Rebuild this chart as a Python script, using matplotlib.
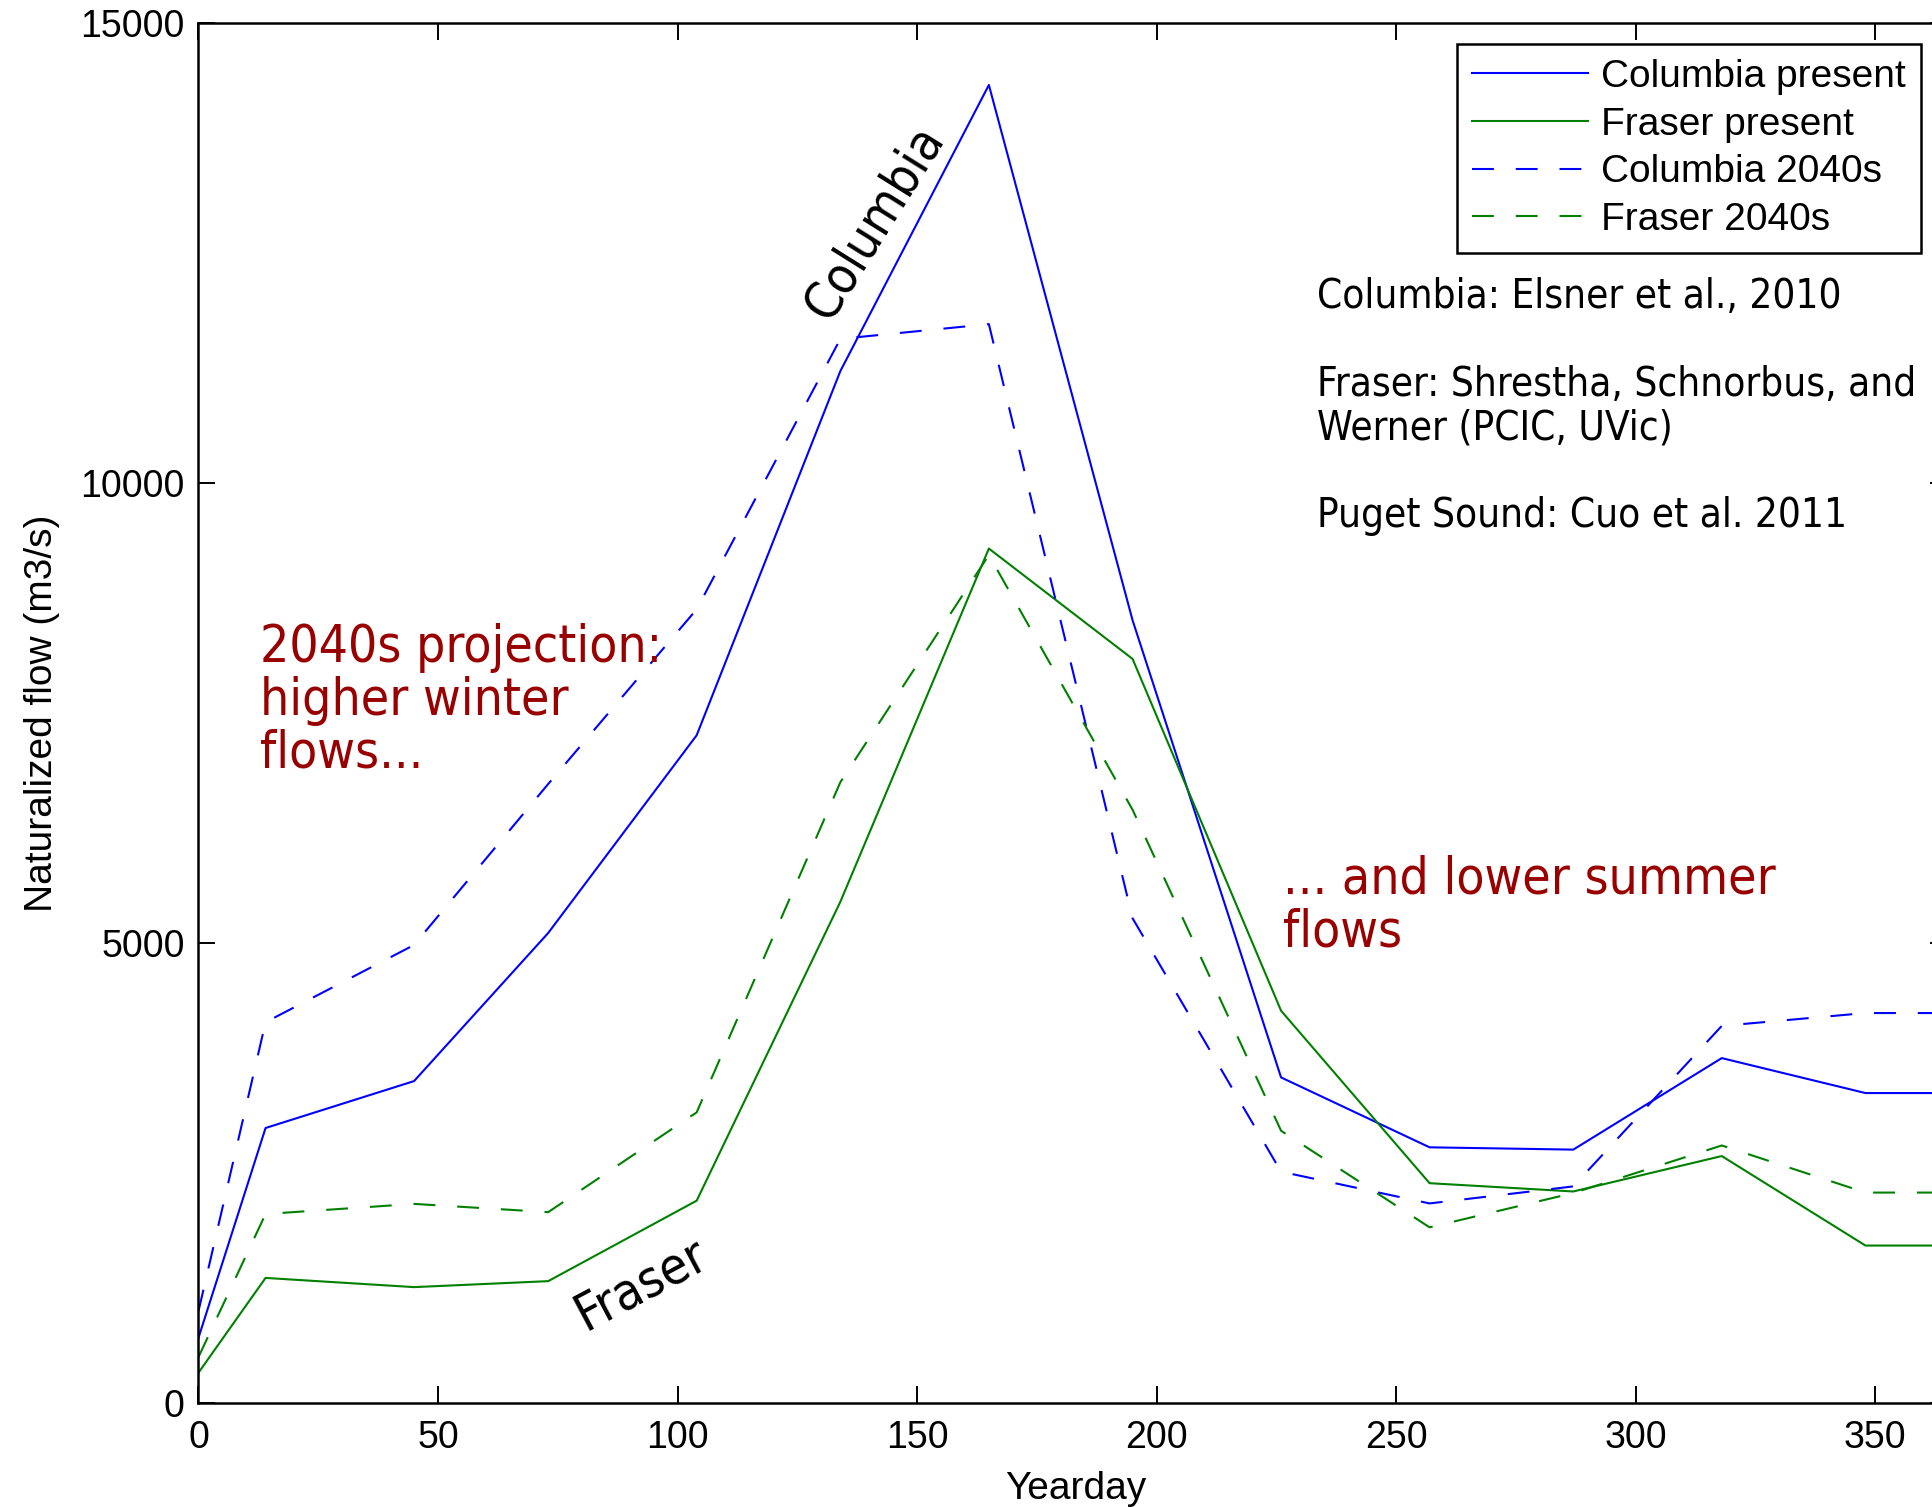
import matplotlib
matplotlib.use("Agg")
import matplotlib.pyplot as plt
from matplotlib import font_manager

plt.rcParams['font.family'] = ['Liberation Sans', 'DejaVu Sans']

# ---- data ----
yearday = [0, 14, 45, 73, 104, 134, 165, 195, 226, 257, 287, 318, 348, 365]
columbia_present = [710, 2990, 3500, 5110, 7260, 11220, 14330, 8510, 3540, 2780, 2755, 3750, 3370, 3370]
columbia_2040s = [1000, 4140, 4980, 6730, 8630, 11570, 11730, 5270, 2515, 2170, 2355, 4100, 4240, 4240]
fraser_present = [330, 1360, 1260, 1325, 2200, 5450, 9290, 8090, 4265, 2390, 2300, 2685, 1712, 1712]
fraser_2040s = [500, 2055, 2165, 2075, 3160, 6750, 9220, 6450, 2960, 1910, 2283, 2800, 2288, 2288]

series_labels = ["Columbia present", "Fraser present", "Columbia 2040s", "Fraser 2040s"]
xticks = [0, 50, 100, 150, 200, 250, 300, 350]
yticks = [0, 5000, 10000, 15000]

BLUE = '#0000ff'
GREEN = '#008000'
RED = '#990000'
DASH = (0, (10.5, 10.5))


def narrow_font():
    """Pick a condensed sans font if one is installed."""
    for f in font_manager.fontManager.ttflist:
        st = str(f.stretch).lower()
        if f.name == 'DejaVu Sans' and st in ('condensed', 'semi-condensed') \
                and f.style == 'normal' and f.weight in (400, 'normal', 'regular', 'book'):
            return font_manager.FontProperties(fname=f.fname)
    for f in font_manager.fontManager.ttflist:
        n = f.name.lower()
        if ('narrow' in n or 'condensed' in n) and f.style == 'normal' \
                and f.weight in (400, 'normal', 'regular', 'book'):
            return font_manager.FontProperties(fname=f.fname)
    return font_manager.FontProperties(family=['Liberation Sans', 'DejaVu Sans'])


NP = narrow_font()


def fp(size):
    p = NP.copy()
    p.set_size(size)
    return p


fig = plt.figure(figsize=(19.33, 15.07), dpi=100)
ax = fig.add_axes([0.10269, 0.0690, 0.9045, 0.9155])

ax.plot(yearday, columbia_present, color=BLUE, lw=1.5, label=series_labels[0])
ax.plot(yearday, fraser_present, color=GREEN, lw=1.5, label=series_labels[1])
ax.plot(yearday, columbia_2040s, color=BLUE, lw=1.5, ls=DASH, label=series_labels[2])
ax.plot(yearday, fraser_2040s, color=GREEN, lw=1.5, ls=DASH, label=series_labels[3])

ax.set_xlim(0, 365)
ax.set_ylim(0, 15000)
ax.set_xticks(xticks)
ax.set_yticks(yticks)
ax.tick_params(direction='in', length=12, width=1.4, top=True, right=True,
               labelsize=27, colors='black')
ax.tick_params(axis='x', pad=12)
ax.tick_params(axis='y', pad=10)
for sp in ax.spines.values():
    sp.set_linewidth(1.8)

ax.set_xlabel("Yearday", fontsize=28)
ax.set_ylabel("Naturalized flow (m3/s)", fontsize=28)
ax.xaxis.set_label_coords(0.502, -0.049)
ax.yaxis.set_label_coords(-0.079, 0.5)

leg = ax.legend(loc='upper left', bbox_to_anchor=(0.7198, 0.9848), fontsize=28,
                frameon=True, fancybox=False, shadow=False, framealpha=1,
                edgecolor='black', handlelength=3.0, handletextpad=0.33,
                borderpad=0.38, labelspacing=0.3, borderaxespad=0)
leg.get_frame().set_linewidth(1.8)

# annotations
ax.text(141.2, 12837, "Columbia", rotation=58, fontproperties=fp(37),
        ha='center', va='center', rotation_mode='anchor')
ax.text(92.4, 1290, "Fraser", rotation=28, fontproperties=fp(37),
        ha='center', va='center', rotation_mode='anchor')
ax.text(12.8, 8480, "2040s projection:\nhigher winter\nflows...", color=RED,
        fontproperties=fp(37), ha='left', va='top', linespacing=1.07)
ax.text(226.4, 5960, "... and lower summer\nflows", color=RED,
        fontproperties=fp(37), ha='left', va='top', linespacing=1.07)
ax.text(233.5, 12240,
        "Columbia: Elsner et al., 2010\n\nFraser: Shrestha, Schnorbus, and\nWerner (PCIC, UVic)\n\nPuget Sound: Cuo et al. 2011",
        fontproperties=fp(29), ha='left', va='top', linespacing=1.12)

fig.savefig("out.png", dpi=100)
